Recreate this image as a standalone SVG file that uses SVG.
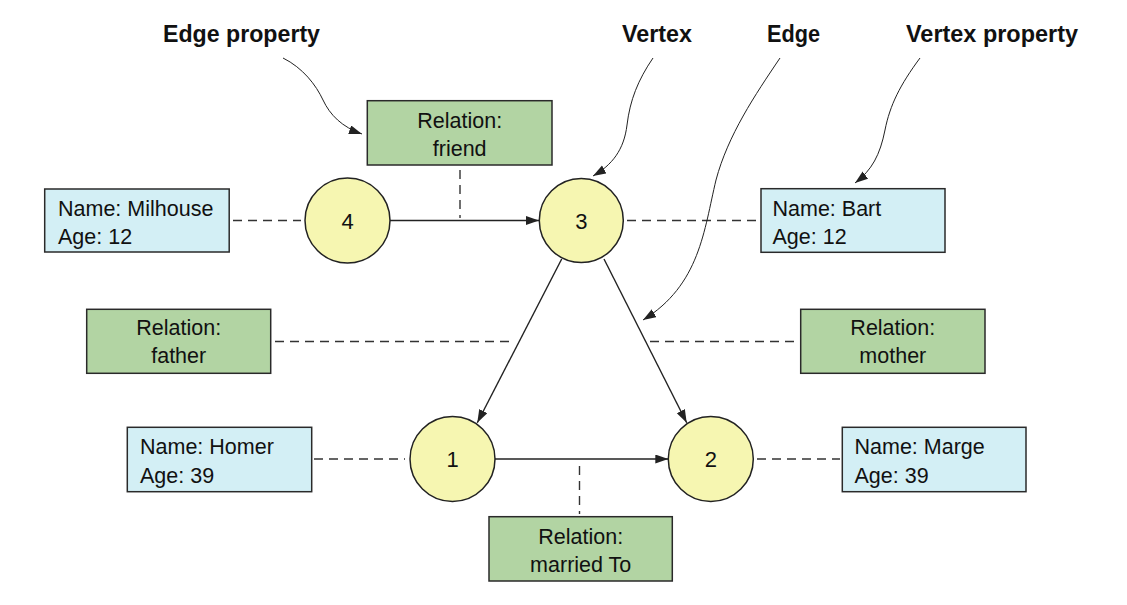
<svg xmlns="http://www.w3.org/2000/svg" width="1127" height="605" viewBox="0 0 1127 605">
<style>
  .title { font-family: "Liberation Sans", Arial, sans-serif; font-weight: bold; font-size: 24.5px; fill: #111; }
  .lbl { font-family: "Liberation Sans", Arial, sans-serif; font-size: 21.5px; fill: #111; }
  .num { font-family: "Liberation Sans", Arial, sans-serif; font-size: 22px; fill: #111; text-anchor: middle; }
  .ctr { text-anchor: middle; }
  .vbox { fill: #d3eff5; stroke: #2a2a2a; stroke-width: 1.5; }
  .ebox { fill: #b2d4a3; stroke: #2a2a2a; stroke-width: 1.5; }
  .vert { fill: #f6f6b1; stroke: #222; stroke-width: 1.5; }
  .dash { stroke: #333; stroke-width: 1.4; stroke-dasharray: 9 6; fill: none; }
  .edge { stroke: #222; stroke-width: 1.4; fill: none; marker-end: url(#arr); }
  .note { stroke: #222; stroke-width: 1; fill: none; marker-end: url(#arr); }
</style>
<defs>
  <marker id="arr" markerUnits="userSpaceOnUse" markerWidth="14" markerHeight="10" refX="13" refY="4.5" orient="auto">
    <path d="M0,0 L13,4.5 L0,9 z" fill="#222"/>
  </marker>
</defs>
<rect width="1127" height="605" fill="#fff"/>

<g id="titles">
  <text class="title" x="163" y="42" textLength="157" lengthAdjust="spacingAndGlyphs">Edge property</text>
  <text class="title" x="622" y="42" textLength="70" lengthAdjust="spacingAndGlyphs">Vertex</text>
  <text class="title" x="767" y="42" textLength="53" lengthAdjust="spacingAndGlyphs">Edge</text>
  <text class="title" x="906" y="42" textLength="172" lengthAdjust="spacingAndGlyphs">Vertex property</text>
</g>

<g id="connectors">
  <line class="dash" x1="233" y1="220.5" x2="301" y2="220.5"/>
  <line class="dash" x1="627" y1="220.5" x2="759" y2="220.5"/>
  <line class="dash" x1="460" y1="170" x2="460" y2="218"/>
  <line class="dash" x1="275" y1="341.5" x2="510" y2="341.5"/>
  <line class="dash" x1="650" y1="341.5" x2="799" y2="341.5"/>
  <line class="dash" x1="314" y1="459" x2="405" y2="459"/>
  <line class="dash" x1="579.5" y1="466" x2="579.5" y2="514"/>
  <line class="dash" x1="757" y1="459" x2="840" y2="459"/>

  <line class="edge" x1="390" y1="220.5" x2="539" y2="220.5"/>
  <line class="edge" x1="561.7" y1="259" x2="477.3" y2="422.7"/>
  <line class="edge" x1="604" y1="259" x2="686.7" y2="422.7"/>
  <line class="edge" x1="495" y1="459" x2="668.3" y2="459"/>

  <path class="note" d="M283,58 C303,68 316,85 323,100 C330,115 342,127 362,134"/>
  <path class="note" d="M653,58 C638,80 630,100 627,125 C624,150 612,165 593,176"/>
  <path class="note" d="M780,58 C755,95 728,135 716,180 C704,230 700,285 643,320"/>
  <path class="note" d="M920,58 C900,85 890,105 885,130 C880,155 872,170 855,183"/>
</g>

<g id="prop-friend">
  <rect class="ebox" x="367.3" y="100.7" width="184.7" height="64.3"/>
  <text class="lbl ctr" x="459.7" y="127.5">Relation:</text>
  <text class="lbl ctr" x="459.7" y="156">friend</text>
</g>
<g id="prop-milhouse">
  <rect class="vbox" x="44.7" y="189" width="184.5" height="63"/>
  <text class="lbl" x="58" y="216">Name: Milhouse</text>
  <text class="lbl" x="58" y="243.5">Age: 12</text>
</g>
<g id="prop-bart">
  <rect class="vbox" x="761" y="188.7" width="184" height="63.6"/>
  <text class="lbl" x="772.5" y="216">Name: Bart</text>
  <text class="lbl" x="772.5" y="243.5">Age: 12</text>
</g>
<g id="prop-father">
  <rect class="ebox" x="86.7" y="309.3" width="184" height="64"/>
  <text class="lbl ctr" x="178.7" y="334.5">Relation:</text>
  <text class="lbl ctr" x="178.7" y="362.5">father</text>
</g>
<g id="prop-mother">
  <rect class="ebox" x="800.7" y="309.3" width="184.3" height="64"/>
  <text class="lbl ctr" x="892.8" y="334.5">Relation:</text>
  <text class="lbl ctr" x="892.8" y="362.5">mother</text>
</g>
<g id="prop-homer">
  <rect class="vbox" x="127.3" y="427.3" width="184.4" height="64.4"/>
  <text class="lbl" x="140" y="453.5">Name: Homer</text>
  <text class="lbl" x="140" y="483">Age: 39</text>
</g>
<g id="prop-marge">
  <rect class="vbox" x="842.3" y="427.3" width="183.7" height="64.4"/>
  <text class="lbl" x="854.5" y="453.5">Name: Marge</text>
  <text class="lbl" x="854.5" y="483">Age: 39</text>
</g>
<g id="prop-married">
  <rect class="ebox" x="489" y="516.7" width="183.3" height="64.3"/>
  <text class="lbl ctr" x="580.7" y="543.5">Relation:</text>
  <text class="lbl ctr" x="580.7" y="572">married To</text>
</g>

<g id="vertex-4">
  <circle class="vert" cx="347.5" cy="220.5" r="42.5"/>
  <text class="num" x="347.5" y="228.5">4</text>
</g>
<g id="vertex-3">
  <circle class="vert" cx="581.3" cy="220.5" r="42"/>
  <text class="num" x="581.3" y="228.5">3</text>
</g>
<g id="vertex-1">
  <circle class="vert" cx="452.5" cy="459" r="42.5"/>
  <text class="num" x="452.5" y="467">1</text>
</g>
<g id="vertex-2">
  <circle class="vert" cx="710.8" cy="459" r="42.5"/>
  <text class="num" x="710.8" y="467">2</text>
</g>
</svg>
